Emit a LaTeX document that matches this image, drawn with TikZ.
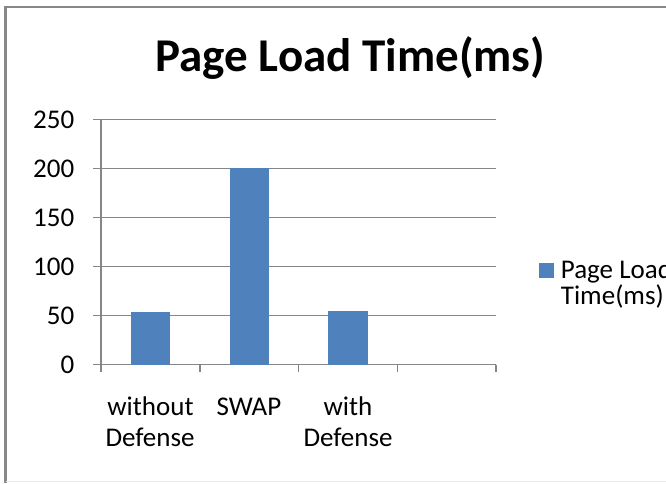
\documentclass[tikz,border=0pt]{standalone}
\usepackage{fontspec}
\setmainfont{Carlito}
\definecolor{barblue}{HTML}{4F81BD}
\definecolor{gridgray}{HTML}{868686}
\definecolor{framegray}{HTML}{888888}
\tikzset{
  gridline/.style={draw=gridgray, line width=1.3pt},
  bar/.style={fill=barblue, draw=none},
  ticklabel/.style={font=\fontsize{27}{33}\selectfont, inner sep=0pt, anchor=base east},
  catlabel/.style={font=\fontsize{27}{33}\selectfont, inner sep=0pt, anchor=base},
  legendlabel/.style={font=\fontsize{27}{33}\selectfont, inner sep=0pt, anchor=base west},
  titlelabel/.style={font=\bfseries\fontsize{47}{56}\selectfont, inner sep=0pt, anchor=base}
}
\begin{document}
\begin{tikzpicture}[x=1pt,y=-1pt]
\useasboundingbox (0,0) rectangle (666,483);
\clip (0,0) rectangle (666,483);
\fill[white] (0,0) rectangle (666,483);
% frame
\draw[framegray, line width=2.4pt] (5.5,483) -- (5.5,7) -- (666,7);
\draw[black!8, line width=1pt] (5.5,481.5) -- (666,481.5);
% title
\node[titlelabel] (title) at (350.4,71.7) {Page Load Time(ms)};
% gridlines and y tick labels
\foreach \v/\y in {0/364.5,50/315.5,100/266.5,150/217.5,200/168.5,250/119.5}{
  \draw[gridline] (93,\y) -- (496,\y);
  \node[ticklabel] (yl\v) at (74.5,\y+8.5) {\v};
}
% axes
\draw[gridline] (101,119.5) -- (101,364.5);
\foreach \x/\n in {101/a,200/b,298.5/c,397.5/d,496/e}{
  \draw[gridline] (\x,364.5) -- (\x,372);
}
% bars (0.98 px per unit)
\fill[bar] (130.7,364.5) rectangle (170.2,{364.5-53.6*0.98});
\fill[bar] (229.9,364.5) rectangle (269.4,{364.5-201*0.98});
\fill[bar] (328.3,364.5) rectangle (367.8,{364.5-54.3*0.98});
% category labels
\node[catlabel] (c1a) at (150.5,415) {without};
\node[catlabel] (c1b) at (150,446.7) {Defense};
\node[catlabel] (c2a) at (249,415) {SWAP};
\node[catlabel] (c3a) at (348,415) {with};
\node[catlabel] (c3b) at (348,446.7) {Defense};
% legend
\fill[bar] (539.3,262.7) rectangle (554,277.7);
\node[legendlabel] (lg1) at (560.7,278) {Page Load};
\node[legendlabel] (lg2) at (560.7,304) {Time(ms)};
\end{tikzpicture}
\end{document}
